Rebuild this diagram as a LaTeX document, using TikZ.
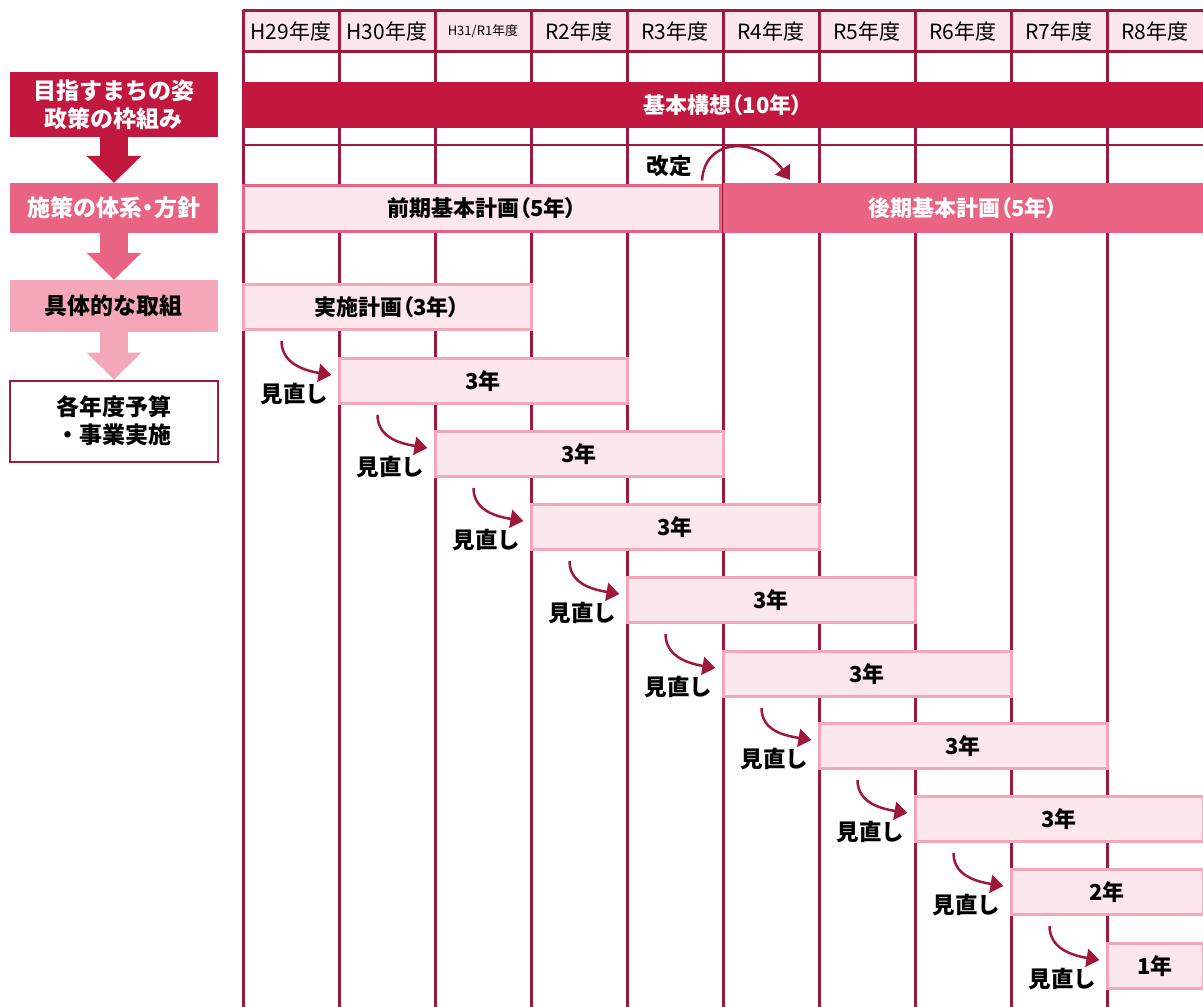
\documentclass[tikz,border=0pt]{standalone}
\usepackage{fontspec}
\setmainfont{Noto Sans CJK JP}
\newfontfamily\jpp{Noto Sans CJK JP}[RawFeature=+palt]
\usetikzlibrary{arrows.meta}

\definecolor{wine}{RGB}{160,24,60}
\definecolor{crim}{RGB}{194,24,64}
\definecolor{rose}{RGB}{232,100,130}
\definecolor{pinkb}{RGB}{244,167,185}
\definecolor{pale}{RGB}{252,232,236}

\begin{document}
\begin{tikzpicture}[x=1pt, y=-1pt,
  yr/.style={font=\fontsize{21}{23}\selectfont, inner sep=0pt},
  side/.style={rectangle, minimum width=208pt, inner sep=0pt, align=center, font=\bfseries\fontsize{23}{28}\selectfont},
  band/.style={rectangle, inner sep=0pt, font=\jpp\bfseries\fontsize{22}{24}\selectfont},
  plan/.style={band, draw=pinkb, line width=3pt, fill=pale, minimum height=45pt},
  rev/.style={draw=wine, line width=2.5pt, -{Triangle[length=13pt,width=18pt]}},
  big/.style={line width=28pt, -{Triangle[length=27pt,width=55pt,line width=0pt]}},
  lab/.style={anchor=east, inner sep=0pt, font=\bfseries\fontsize{22.5}{24}\selectfont}]
\useasboundingbox (0,0) rectangle (1203,1007);

% year grid
\fill[pale] (243,10) rectangle (1203,51);
\foreach \x in {243,339,...,1107}
  \draw[wine, line width=3pt] (\x,10) -- (\x,1007);
\draw[wine, line width=3pt] (243,10) -- (1203,10);
\draw[wine, line width=3pt] (243,51) -- (1203,51);
\draw[wine, line width=2pt] (243,145) -- (1203,145);

\node[yr] (y1) at (291,31) {H29年度};
\node[yr] (y2) at (387,31) {H30年度};
\node[yr, font=\fontsize{13}{15}\selectfont] (y3) at (483,31) {H31/R1年度};
\node[yr] (y4) at (579,31) {R2年度};
\node[yr] (y5) at (675,31) {R3年度};
\node[yr] (y6) at (771,31) {R4年度};
\node[yr] (y7) at (867,31) {R5年度};
\node[yr] (y8) at (963,31) {R6年度};
\node[yr] (y9) at (1059,31) {R7年度};
\node[yr] (y10) at (1155,31) {R8年度};

% left column
\node[side, fill=crim, text=white, minimum height=65pt] (s1) at (114,104.5) {目指すまちの姿\\政策の枠組み};
\node[side, fill=rose, text=white, minimum height=50pt, font=\jpp\bfseries\fontsize{23}{28}\selectfont] (s2) at (114,208) {施策の体系・方針};
\node[side, fill=pinkb, minimum height=52pt] (s3) at (114,306) {具体的な取組};
\node[side, draw=wine, line width=2pt, fill=white, minimum height=81pt] (s4) at (114,421) {各年度予算\\・事業実施};

\draw[big, crim] (s1) -- (s2);
\draw[big, rose] (s2) -- (s3);
\draw[big, pinkb] (s3) -- (s4.north);

% plans
\node[band, fill=crim, text=white, minimum width=960pt, minimum height=46pt] (kihon) at (723,105) {基本構想（10年）};
\node[band, draw=rose, line width=3pt, fill=pale, minimum width=477pt, minimum height=46pt] (zenki) at (482,208) {前期基本計画（5年）};
\node[band, fill=rose, text=white, minimum width=480pt, minimum height=50pt] (koki) at (963,208) {後期基本計画（5年）};
\node[lab] (kt) at ([xshift=-30pt,yshift=17pt]zenki.north east) {改定};
\draw[rev] ([xshift=-20pt,yshift=3pt]zenki.north east) .. controls +(3,-45) and +(-30,-42) .. ([xshift=67pt,yshift=3pt]koki.north west);

\node[plan, minimum width=288pt] (p0) at (387,307) {実施計画（3年）};
\node[plan, minimum width=288pt] (p1) at (483,381) {3年};
\node[plan, minimum width=288pt] (p2) at (579,454) {3年};
\node[plan, minimum width=288pt] (p3) at (675,527) {3年};
\node[plan, minimum width=288pt] (p4) at (771,600) {3年};
\node[plan, minimum width=288pt] (p5) at (867,674) {3年};
\node[plan, minimum width=288pt] (p6) at (963,746) {3年};
\node[plan, minimum width=288pt] (p7) at (1059,819) {3年};
\node[plan, minimum width=192pt] (p8) at (1107,892) {2年};
\node[plan, minimum width=96pt] (p9) at (1155,966) {1年};

% reviews
\node[lab] (r1) at ([xshift=-9pt,yshift=11pt]p1.south west) {見直し};
\node[lab] (r2) at ([xshift=-9pt,yshift=11pt]p2.south west) {見直し};
\node[lab] (r3) at ([xshift=-9pt,yshift=11pt]p3.south west) {見直し};
\node[lab] (r4) at ([xshift=-9pt,yshift=11pt]p4.south west) {見直し};
\node[lab] (r5) at ([xshift=-9pt,yshift=11pt]p5.south west) {見直し};
\node[lab] (r6) at ([xshift=-9pt,yshift=11pt]p6.south west) {見直し};
\node[lab] (r7) at ([xshift=-9pt,yshift=11pt]p7.south west) {見直し};
\node[lab] (r8) at ([xshift=-9pt,yshift=11pt]p8.south west) {見直し};
\node[lab] (r9) at ([xshift=-9pt,yshift=11pt]p9.south west) {見直し};

\draw[rev] ([xshift=40pt,yshift=-10pt]p0.south west) .. controls +(0,24) and +(-24,-4) .. ([xshift=-6pt,yshift=6pt]p1.west);
\draw[rev] ([xshift=40pt,yshift=-10pt]p1.south west) .. controls +(0,24) and +(-24,-4) .. ([xshift=-6pt,yshift=6pt]p2.west);
\draw[rev] ([xshift=40pt,yshift=-10pt]p2.south west) .. controls +(0,24) and +(-24,-4) .. ([xshift=-6pt,yshift=6pt]p3.west);
\draw[rev] ([xshift=40pt,yshift=-10pt]p3.south west) .. controls +(0,24) and +(-24,-4) .. ([xshift=-6pt,yshift=6pt]p4.west);
\draw[rev] ([xshift=40pt,yshift=-10pt]p4.south west) .. controls +(0,24) and +(-24,-4) .. ([xshift=-6pt,yshift=6pt]p5.west);
\draw[rev] ([xshift=40pt,yshift=-10pt]p5.south west) .. controls +(0,24) and +(-24,-4) .. ([xshift=-6pt,yshift=6pt]p6.west);
\draw[rev] ([xshift=40pt,yshift=-10pt]p6.south west) .. controls +(0,24) and +(-24,-4) .. ([xshift=-6pt,yshift=6pt]p7.west);
\draw[rev] ([xshift=40pt,yshift=-10pt]p7.south west) .. controls +(0,24) and +(-24,-4) .. ([xshift=-6pt,yshift=6pt]p8.west);
\draw[rev] ([xshift=40pt,yshift=-10pt]p8.south west) .. controls +(0,24) and +(-24,-4) .. ([xshift=-6pt,yshift=6pt]p9.west);
\end{tikzpicture}
\end{document}
